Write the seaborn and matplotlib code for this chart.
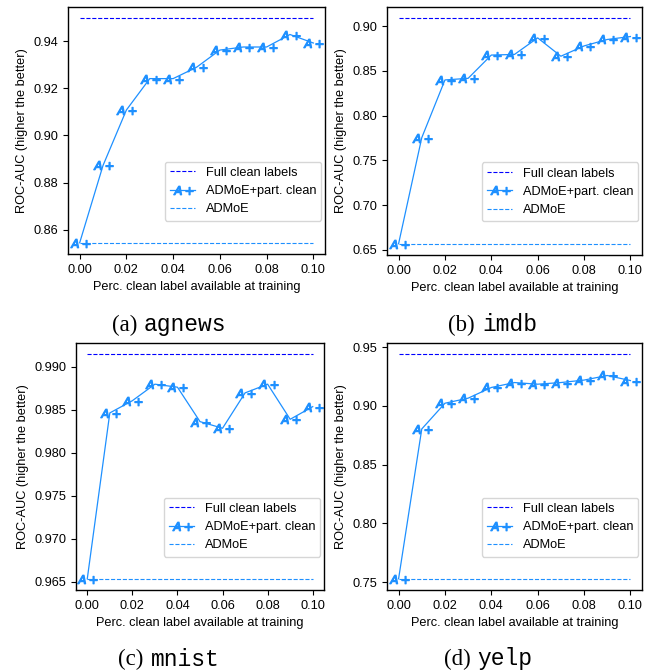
import matplotlib
matplotlib.use("Agg")
import matplotlib.pyplot as plt
import seaborn as sns
from matplotlib.ticker import MultipleLocator
from matplotlib.offsetbox import TextArea, HPacker, AnnotationBbox

# ---- data ----
perc = [0.00, 0.01, 0.02, 0.03, 0.04, 0.05, 0.06, 0.07, 0.08, 0.09, 0.10]

agnews_part = [0.8545, 0.8873, 0.9108, 0.9241, 0.9241, 0.9289, 0.9362, 0.9375, 0.9375, 0.9428, 0.9392]
agnews_full = 0.9497
agnews_admoe = 0.8545

imdb_part = [0.657, 0.7755, 0.8400, 0.8418, 0.8678, 0.8685, 0.8870, 0.8665, 0.8780, 0.8852, 0.8885]
imdb_full = 0.9089
imdb_admoe = 0.657

mnist_part = [0.96535, 0.98462, 0.98604, 0.98796, 0.98761, 0.98361, 0.98284, 0.98695, 0.98796, 0.98388, 0.98535]
mnist_full = 0.99144
mnist_admoe = 0.96535

yelp_part = [0.7529, 0.8804, 0.9023, 0.9066, 0.9157, 0.9199, 0.9185, 0.9199, 0.9220, 0.9259, 0.9216]
yelp_full = 0.9440
yelp_admoe = 0.7529

ytick_steps = [0.02, 0.05, 0.005, 0.05]

panel_letters = ["(a)", "(b)", "(c)", "(d)"]
dataset_names = ["agnews", "imdb", "mnist", "yelp"]
legend_labels = ["Full clean labels", "ADMoE+part. clean", "ADMoE"]
xlabel = "Perc. clean label available at training"
ylabel = "ROC-AUC (higher the better)"

# ---- style ----
plt.rcParams["font.family"] = ["Liberation Sans", "DejaVu Sans"]
FS = 9.2
plt.rcParams["font.size"] = FS

W, H = 664, 672
fig = plt.figure(figsize=(W / 100, H / 100), dpi=100)

# axes boxes in pixels: left, top, right, bottom
boxes = [
    (68, 7, 325, 254),
    (387, 7, 642, 255),
    (76, 343, 324, 590),
    (387, 343, 642, 590),
]
caption_pos = [(0.2545, 1 - 325 / H), (0.742, 1 - 325 / H),
               (0.2545, 1 - 659 / H), (0.735, 1 - 659 / H)]

series = [
    (agnews_part, agnews_full, agnews_admoe),
    (imdb_part, imdb_full, imdb_admoe),
    (mnist_part, mnist_full, mnist_admoe),
    (yelp_part, yelp_full, yelp_admoe),
]

for i, (part, full, admoe) in enumerate(series):
    l, t, r, b = boxes[i]
    ax = fig.add_axes([l / W, 1 - b / H, (r - l) / W, (b - t) / H])
    xs = [perc[0], perc[-1]]
    sns.lineplot(x=xs, y=[full, full], ax=ax, color="blue", lw=0.8,
                 linestyle="--", label=legend_labels[0])
    sns.lineplot(x=perc, y=part, ax=ax, color="dodgerblue", lw=0.9,
                 marker=r"$A+$", markersize=14, mec="dodgerblue", mew=0.9,
                 label=legend_labels[1])
    sns.lineplot(x=xs, y=[admoe, admoe], ax=ax, color="dodgerblue", lw=0.8,
                 linestyle="--", label=legend_labels[2])
    ax.set_xticks(perc[::2])
    ax.yaxis.set_major_locator(MultipleLocator(ytick_steps[i]))
    ax.set_xlabel(xlabel, fontsize=FS)
    ax.set_ylabel(ylabel, fontsize=FS)
    ax.tick_params(labelsize=FS, direction="out", length=3.5, width=0.8, colors="black")
    for s in ax.spines.values():
        s.set_color("black")
        s.set_linewidth(1.0)
    ax.legend(loc="lower right", bbox_to_anchor=(1.0, 0.12), borderaxespad=0.3,
              fontsize=FS, frameon=True, handlelength=2.0)

    tp = TextArea(panel_letters[i], textprops=dict(family="Liberation Serif", size=16.5, color="black"))
    tn = TextArea(dataset_names[i], textprops=dict(family="Liberation Mono", size=16.5, color="black"))
    pack = HPacker(children=[tp, tn], align="baseline", pad=0, sep=5)
    ab = AnnotationBbox(pack, caption_pos[i], xycoords="figure fraction",
                        frameon=False, box_alignment=(0.5, 0.5))
    fig.add_artist(ab)

fig.savefig("out.png", dpi=100)
